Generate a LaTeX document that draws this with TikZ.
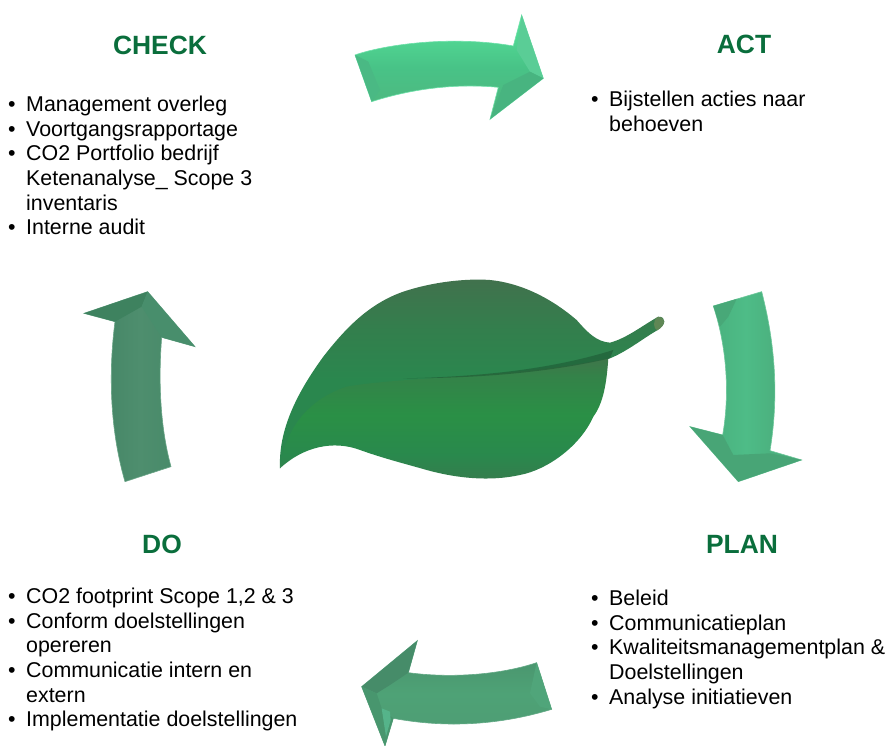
\documentclass[tikz,border=0pt]{standalone}
\usepackage{fontspec}
\setmainfont{Liberation Sans}
\definecolor{titlegreen}{RGB}{10,110,60}
\definecolor{creasedark}{RGB}{28,85,50}
\definecolor{stemtip}{RGB}{95,135,85}
\pgfdeclareverticalshading{leaftop}{100bp}{color(0bp)=(rgb:red,30;green,95;blue,55);color(25bp)=(rgb:red,30;green,95;blue,55);color(49bp)=(rgb:red,30;green,95;blue,55);color(62bp)=(rgb:red,48;green,118;blue,72);color(75bp)=(rgb:red,75;green,130;blue,88);color(100bp)=(rgb:red,75;green,130;blue,88)}
\pgfdeclareverticalshading{leaflow}{100bp}{color(0bp)=(rgb:red,50;green,115;blue,72);color(25bp)=(rgb:red,50;green,115;blue,72);color(36bp)=(rgb:red,30;green,100;blue,56);color(52bp)=(rgb:red,36;green,124;blue,60);color(68bp)=(rgb:red,50;green,125;blue,70);color(75bp)=(rgb:red,70;green,130;blue,82);color(100bp)=(rgb:red,70;green,130;blue,82)}
\newcommand{\bl}[1]{\makebox[19pt][l]{\hspace{1pt}•}#1}
\newcommand{\ct}[1]{\hspace*{19pt}#1}
\tikzset{
  heading/.style={font=\fontsize{26.4}{30}\selectfont\bfseries,text=titlegreen,inner sep=0pt},
  itemlist/.style={anchor=north west,align=left,inner sep=0pt,font=\fontsize{21.4}{24.6}\selectfont,text=black},
  pxscope/.style={shift={(#1)},x=0.3333pt,y=-0.3333pt},
}
\begin{document}
\begin{tikzpicture}[x=1pt,y=-1pt]
\useasboundingbox (0,0) rectangle (886,746);
\fill[white] (0,0) rectangle (886,746);

% leaf
\begin{scope}[pxscope={260,270}]
  \shade[shading=leaftop,draw=none]
    (60,595) .. controls (55,480) and (110,370) .. (190,260)
    .. controls (260,170) and (330,100) .. (430,65)
    .. controls (520,35) and (620,25) .. (690,30)
    .. controls (790,40) and (880,90) .. (950,150)
    .. controls (985,190) and (1010,215) .. (1050,218)
    .. controls (1100,205) and (1150,165) .. (1195,140)
    .. controls (1220,140) and (1220,165) .. (1190,182)
    .. controls (1150,205) and (1100,245) .. (1050,265)
    .. controls (950,300) and (800,345) .. (430,360)
    .. controls (300,375) and (190,420) .. (130,490)
    .. controls (100,520) and (70,560) .. (60,595) -- cycle;
  \shade[shading=leaflow,draw=none]
    (60,595) .. controls (75,480) and (140,390) .. (260,350)
    .. controls (430,320) and (800,320) .. (1045,265)
    .. controls (1040,340) and (1030,400) .. (1000,440)
    .. controls (960,530) and (860,600) .. (780,615)
    .. controls (690,635) and (590,625) .. (500,600)
    .. controls (430,580) and (370,565) .. (300,540)
    .. controls (220,510) and (130,530) .. (60,595) -- cycle;
  \fill[creasedark,opacity=.55]
    (430,325) .. controls (700,320) and (900,290) .. (1060,240)
    -- (1050,265) .. controls (900,300) and (700,325) .. (430,325) -- cycle;
  \fill[stemtip] (1192,141) .. controls (1218,138) and (1220,165) .. (1192,181)
    .. controls (1180,178) and (1178,150) .. (1192,141) -- cycle;
\end{scope}

% top arrow
\begin{scope}[pxscope={340,0}]
  \shade[top color={rgb,255:red,88;green,228;blue,155},bottom color={rgb,255:red,80;green,180;blue,125},middle color={rgb,255:red,72;green,195;blue,135},draw={rgb,255:red,110;green,225;blue,170},line width=.6pt]
    (45,165) .. controls (130,135) and (330,105) .. (520,138) -- (545,45) -- (610,235) -- (450,358) -- (475,262)
    .. controls (350,250) and (220,265) .. (95,305) -- cycle;
  \fill[fill={rgb,255:red,74;green,185;blue,132}] (45,165) -- (95,305) -- (120,270) -- (85,185) -- cycle;
  \fill[fill={rgb,255:red,90;green,205;blue,150}] (545,45) -- (610,235) -- (570,215) -- (530,150) -- cycle;
  \fill[fill={rgb,255:red,72;green,180;blue,128}] (610,235) -- (450,358) -- (490,255) -- (570,215) -- cycle;
\end{scope}

% right arrow
\begin{scope}[pxscope={670,280}]
  \shade[left color={rgb,255:red,70;green,170;blue,120},right color={rgb,255:red,72;green,165;blue,118},middle color={rgb,255:red,78;green,188;blue,135},draw={rgb,255:red,110;green,200;blue,155},line width=.6pt]
    (130,78) -- (275,35) .. controls (310,170) and (330,330) .. (300,512) -- (395,540) -- (205,605) -- (60,440) -- (158,465)
    .. controls (180,340) and (170,200) .. (130,78) -- cycle;
  \fill[fill={rgb,255:red,72;green,168;blue,120}] (130,78) -- (200,57) -- (175,110) -- (150,140) -- cycle;
  \fill[fill={rgb,255:red,72;green,165;blue,118}] (60,440) -- (205,605) -- (395,540) -- (300,520) -- (190,525) -- (158,465) -- cycle;
\end{scope}

% bottom arrow
\begin{scope}[pxscope={340,630}]
  \shade[top color={rgb,255:red,72;green,142;blue,106},bottom color={rgb,255:red,78;green,155;blue,115},middle color={rgb,255:red,78;green,162;blue,118},draw={rgb,255:red,100;green,170;blue,135},line width=.6pt]
    (590,98) -- (635,238) .. controls (480,285) and (320,295) .. (160,265) -- (135,348) -- (65,170) -- (232,32) -- (205,128)
    .. controls (330,145) and (480,135) .. (590,98) -- cycle;
  \fill[fill={rgb,255:red,80;green,165;blue,122}] (590,98) -- (635,238) -- (600,230) -- (570,190) -- cycle;
  \fill[fill={rgb,255:red,70;green,140;blue,105}] (65,170) -- (232,32) -- (205,128) -- (150,165) -- (110,190) -- cycle;
  \fill[fill={rgb,255:red,72;green,150;blue,110}] (65,170) -- (110,190) -- (125,235) -- (160,265) -- (135,348) -- cycle;
  \fill[fill={rgb,255:red,85;green,180;blue,138}] (125,235) -- (150,245) -- (152,270) -- (138,320) -- cycle;
\end{scope}

% left arrow
\begin{scope}[pxscope={70,280}]
  \shade[left color={rgb,255:red,65;green,130;blue,98},right color={rgb,255:red,68;green,135;blue,102},middle color={rgb,255:red,78;green,142;blue,110},draw={rgb,255:red,105;green,165;blue,135},line width=.6pt]
    (165,605) -- (303,560) .. controls (270,440) and (265,300) .. (275,172) -- (375,200) -- (233,35) -- (42,100) -- (135,125)
    .. controls (115,280) and (120,450) .. (165,605) -- cycle;
  \fill[fill={rgb,255:red,62;green,130;blue,95}] (42,100) -- (233,35) -- (215,80) -- (135,125) -- cycle;
  \fill[fill={rgb,255:red,72;green,142;blue,108}] (233,35) -- (375,200) -- (275,172) -- (215,80) -- cycle;
\end{scope}

% headings
\node[heading] (check) at (160,45) {CHECK};
\node[heading] (act) at (744,44) {ACT};
\node[heading] (plan) at (742,544) {PLAN};
\node[heading] (do) at (162,544) {DO};

% lists
\node[itemlist] (checklist) at (7,96) {\bl{Management overleg}\\\bl{Voortgangsrapportage}\\\bl{CO2 Portfolio bedrijf}\\\ct{Ketenanalyse\_ Scope 3}\\\ct{inventaris}\\\bl{Interne audit}};
\node[itemlist] (actlist) at (590,91) {\bl{Bijstellen acties naar}\\\ct{behoeven}};
\node[itemlist] (planlist) at (590,590) {\bl{Beleid}\\\bl{Communicatieplan}\\\bl{Kwaliteitsmanagementplan \&}\\\ct{Doelstellingen}\\\bl{Analyse initiatieven}};
\node[itemlist] (dolist) at (7,588) {\bl{CO2 footprint Scope 1,2 \& 3}\\\bl{Conform doelstellingen}\\\ct{opereren}\\\bl{Communicatie intern en}\\\ct{extern}\\\bl{Implementatie doelstellingen}};
\end{tikzpicture}
\end{document}
